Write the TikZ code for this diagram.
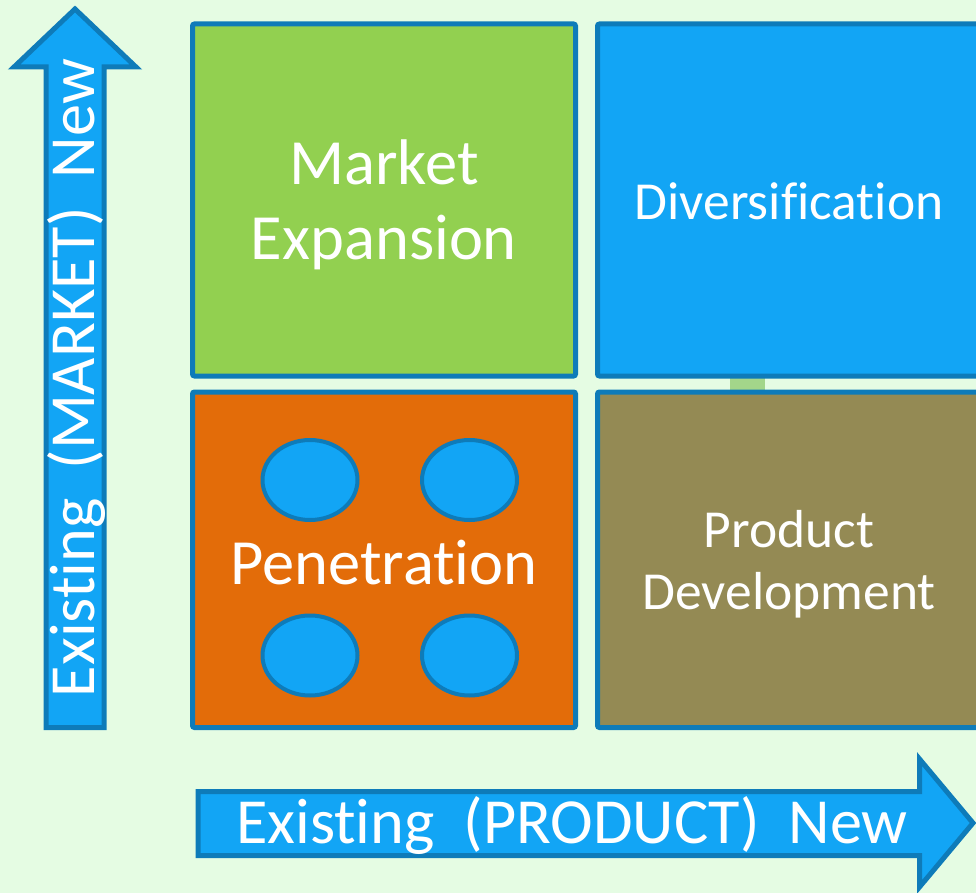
\documentclass[tikz,border=0pt]{standalone}
\usepackage{fontspec}
\setmainfont{Carlito}[Ligatures={NoCommon}]
\usetikzlibrary{shapes.geometric}
\definecolor{bg}{HTML}{E5FCE3}
\definecolor{sky}{HTML}{12A5F5}
\definecolor{edge}{HTML}{0E7BB9}
\definecolor{mgreen}{HTML}{92D050}
\definecolor{morange}{HTML}{E36C09}
\definecolor{molive}{HTML}{948A54}
\definecolor{strip}{HTML}{A3D68A}
\begin{document}
\begin{tikzpicture}[x=1pt,y=-1pt,
  quad/.style={draw=edge, line width=5pt, rounded corners=2pt, rectangle, inner sep=0pt},
  qtext/.style={text=white, align=center, inner sep=0pt},
  dot/.style={ellipse, draw=edge, line width=4pt, fill=sky, minimum width=95pt, minimum height=80pt, inner sep=0pt},
  arrowbody/.style={draw=edge, line width=5pt, fill=sky, line join=miter},
  axislabel/.style={text=white, font=\fontsize{64.3}{75}\selectfont, inner sep=0pt},
  bigfont/.style={font=\fontsize{64.5}{75}\selectfont},
  midfont/.style={font=\fontsize{53.5}{62}\selectfont}]
\fill[bg] (0,0) rectangle (976,893);
\useasboundingbox (0,0) rectangle (976,893);
% green strip in the gap
\fill[strip] (730,378) rectangle (765,390);
% quadrants
\node[quad, fill=mgreen, minimum width=383pt, minimum height=352pt] (me) at (384,200) {};
\node[quad, fill=sky, minimum width=383pt, minimum height=352pt] (dv) at (789,200) {};
\node[quad, fill=morange, minimum width=383pt, minimum height=335.5pt] (pn) at (384,559.75) {};
\node[quad, fill=molive, minimum width=383pt, minimum height=335.5pt] (pd) at (789,559.75) {};
\node[qtext, bigfont] (met) at (384,205) {Market\\Expansion};
\node[qtext, midfont] (dvt) at (789,201) {Diversification};
\node[qtext, midfont] (pdt) at (789,564) {Product\\Development};
% circles
\node[dot] (c1) at (310,480) {};
\node[dot] (c2) at (469.5,480) {};
\node[dot] (c3) at (310,655.5) {};
\node[dot] (c4) at (469.5,655.5) {};
\node[qtext, bigfont] (pt) at (384,563) {Penetration};
% vertical arrow
\draw[arrowbody] (46,727.5) -- (46,67) -- (14,67) -- (75,9) -- (136,67) -- (104,67) -- (104,727.5) -- cycle;
\node[axislabel, rotate=90] (ya) at (77,378) {Existing\ \ (MARKET)\ \ New};
% horizontal arrow
\draw[arrowbody] (198,791.5) -- (919.5,791.5) -- (919.5,759) -- (973,823) -- (919.5,887) -- (919.5,855.5) -- (198,855.5) -- cycle;
\node[axislabel] (xa) at (572,825) {Existing\ \ (PRODUCT)\ \ New};
\end{tikzpicture}
\end{document}
